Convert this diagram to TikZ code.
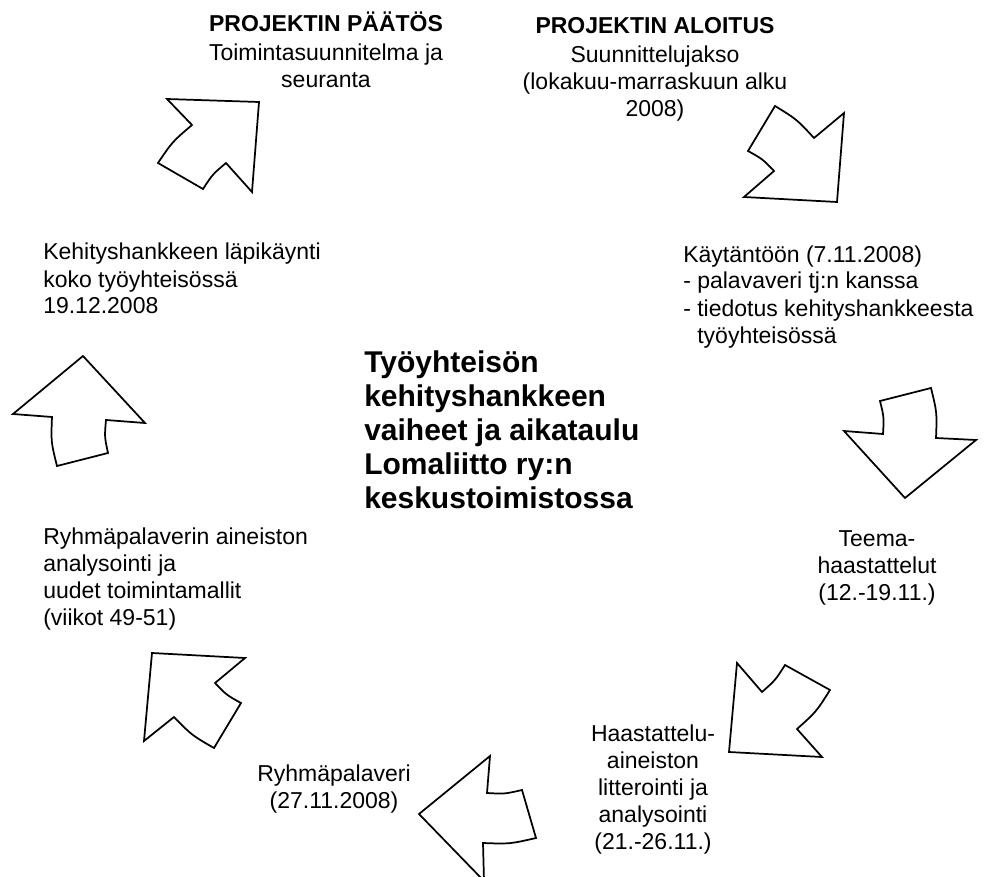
\documentclass[tikz,border=0pt]{standalone}
\usepackage{fontspec}
\setmainfont{Liberation Sans}
\tikzset{
  phase/.style={font=\fontsize{17.25}{20.25}\selectfont, inner sep=0pt},
  headline/.style={font=\fontsize{22.5}{25.5}\selectfont\bfseries, align=left, inner sep=0pt},
  stagearrow/.style={draw, line width=1.3pt, line join=miter},
}
\begin{document}
\begin{tikzpicture}[x=0.75pt, y=-0.75pt]
\useasboundingbox (0,0) rectangle (985,877);
% texts round the cycle (base = last line)
\node[phase, align=center, anchor=base] (paatos) at (326,88) {\textbf{PROJEKTIN PÄÄTÖS}\\[2pt]Toimintasuunnitelma ja\\seuranta};
\node[phase, align=center, anchor=base] (aloitus) at (655,117) {\textbf{PROJEKTIN ALOITUS}\\[2pt]Suunnittelujakso\\(lokakuu-marraskuun alku\\2008)};
\node[phase, align=left, anchor=base west] (kaytanto) at (683,343) {Käytäntöön (7.11.2008)\\- palavaveri tj:n kanssa\\- tiedotus kehityshankkeesta\\\phantom{- }työyhteisössä};
\node[phase, align=center, anchor=base] (teema) at (877,600) {Teema-\\haastattelut\\(12.-19.11.)};
\node[phase, align=center, anchor=base] (litterointi) at (653,849) {Haastattelu-\\aineiston\\litterointi ja\\analysointi\\(21.-26.11.)};
\node[phase, align=center, anchor=base] (palaveri) at (334,808) {Ryhmäpalaveri\\(27.11.2008)};
\node[phase, align=left, anchor=base west] (mallit) at (43,625) {Ryhmäpalaverin aineiston\\analysointi ja\\uudet toimintamallit\\(viikot 49-51)};
\node[phase, align=left, anchor=base west] (lapikaynti) at (43,314) {Kehityshankkeen läpikäynti\\koko työyhteisössä\\19.12.2008};
\node[headline, anchor=base west] (otsikko) at (364,508) {Työyhteisön\\kehityshankkeen\\vaiheet ja aikataulu\\Lomaliitto ry:n\\keskustoimistossa};
% arrows, clockwise from the top right
\draw[stagearrow] (775,106) .. controls (796.7,119.3) .. (814,138) -- (844,113) -- (837,202) -- (744,197) -- (774,171) .. controls (762.5,159) .. (748,151) -- cycle;
\draw[stagearrow] (931,388) .. controls (937,412.6) .. (936,438) -- (976,440) -- (905,498) -- (844,431) -- (883,434) .. controls (884,417.3) .. (880,401) -- cycle;
\draw[stagearrow] (830,690) .. controls (816.2,711.8) .. (797,729) -- (822,757) -- (729,752) -- (737,663) -- (762,692) .. controls (775.4,680.1) .. (785,665) -- cycle;
\draw[stagearrow] (536,838) .. controls (509.8,844) .. (483,843) -- (484,881) -- (419,814) -- (490,756) -- (487,793) .. controls (504.7,794) .. (522,790) -- cycle;
\draw[stagearrow] (214,748) .. controls (191.9,735.3) .. (174,717) -- (144,741) -- (152,653) -- (245,658) -- (215,683) .. controls (226.5,695) .. (241,703) -- cycle;
\draw[stagearrow] (57,466) .. controls (51,441.9) .. (52,417) -- (13,414) -- (83,356) -- (145,423) -- (106,420) .. controls (104.5,436.7) .. (108,453) -- cycle;
\draw[stagearrow] (158,163) .. controls (172.4,141.7) .. (192,125) -- (167,99) -- (259,102) -- (252,192) -- (226,163) .. controls (212.6,174.3) .. (203,189) -- cycle;
\end{tikzpicture}
\end{document}
